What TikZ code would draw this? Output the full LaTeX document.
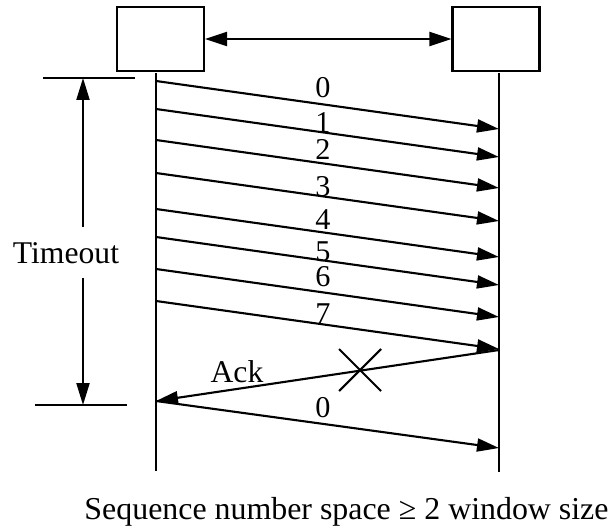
\documentclass[tikz,border=0pt]{standalone}
\usepackage{fontspec}
\setmainfont{Liberation Serif}
\usepackage{tikz}
\usetikzlibrary{arrows.meta}
\tikzset{
  host/.style={draw, line width=1.2pt, minimum width=1.74cm, minimum height=1.28cm, inner sep=0pt},
  tline/.style={line width=1.2pt},
  msg/.style={-{Triangle[length=0.44cm, width=0.26cm]}, line width=1.2pt},
  both/.style={{Triangle[length=0.44cm, width=0.28cm]}-{Triangle[length=0.44cm, width=0.28cm]}, line width=1.2pt},
  lbl/.style={inner sep=0pt},
  seqno/.style={lbl, font=\fontsize{17.2pt}{20pt}\selectfont},
}
\begin{document}
\begin{tikzpicture}[x=0.02cm, y=-0.02cm, font=\fontsize{18pt}{22pt}\selectfont]
  \useasboundingbox (0,0) rectangle (611,527);
  % the two ends of the link
  \node[host] (snd) at (160.5,39) {};
  \node[host] (rcv) at (496,39) {};
  \draw[both] (snd.east) -- (rcv.west);
  \coordinate (st) at (156,73);
  \coordinate (sb) at (156,471);
  \coordinate (rt) at (499,73);
  \coordinate (rb) at (499,472);
  \draw[tline] (st) -- (sb);
  \draw[tline] (rt) -- (rb);
  % frames of the window
  \foreach \n/\ys/\ly in {0/81/88, 1/109/123, 2/140/149, 3/173/187, 4/209/220, 5/237/252, 6/269/277, 7/301/314} {
    \coordinate (s\n) at (156,\ys);
    \coordinate (r\n) at (499,\ys+48);
    \draw[msg] (s\n) -- (r\n);
    \node[seqno] (l\n) at (323,\ly) {\n};
  }
  % lost ack and resend
  \coordinate (ra) at (499,350);
  \coordinate (sa) at (156,401);
  \coordinate (rz) at (499,448);
  \draw[msg] (ra) -- (sa);
  \node[lbl] (ack) at (237,372) {Ack};
  \draw[tline] (339,349) -- (381,391) (339,391) -- (381,349);
  \draw[msg] (sa) -- (rz);
  \node[seqno] (lz) at (323,408) {0};
  % timeout
  \coordinate (ta) at (43,78);
  \coordinate (tb) at (135,78);
  \coordinate (ba) at (35,405);
  \coordinate (bb) at (127,405);
  \draw[tline] (ta) -- (tb);
  \draw[tline] (ba) -- (bb);
  \node[lbl] (tmo) at (66,253) {Timeout};
  \coordinate (tu) at (83,227);
  \coordinate (tt) at (83,78);
  \coordinate (td) at (83,278);
  \coordinate (tbt) at (83,405);
  \draw[msg] (tu) -- (tt);
  \draw[msg] (td) -- (tbt);
  \node[anchor=base, font=\fontsize{18.15pt}{22pt}\selectfont] (cap) at (346.5,519) {Sequence number space ≥ 2 window size};
\end{tikzpicture}
\end{document}
